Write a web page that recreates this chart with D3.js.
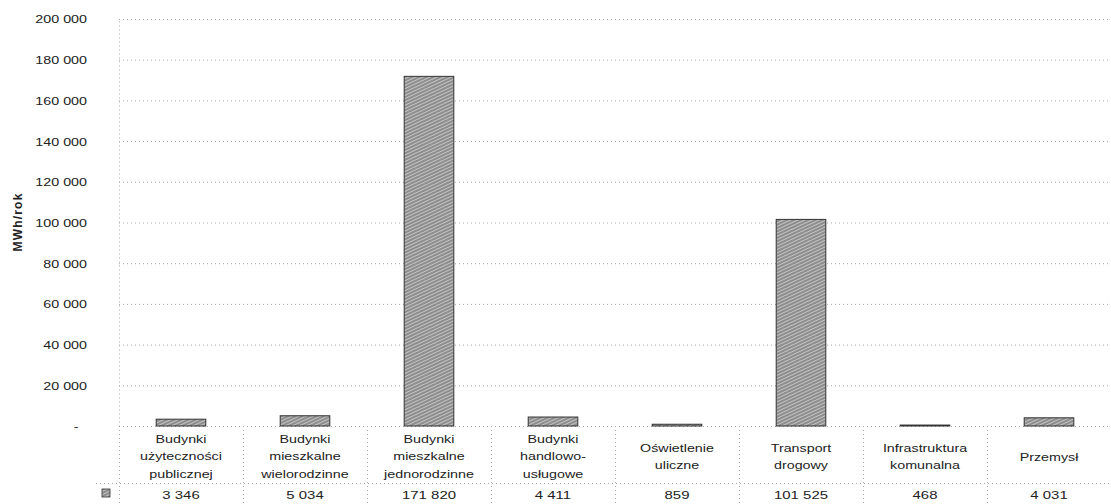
<!DOCTYPE html>
<html>
<head>
<meta charset="utf-8">
<script src="https://cdn.jsdelivr.net/npm/d3@7"></script>
<style>
body { margin: 0; background: #fff; }
svg { display: block; font-family: "Liberation Sans", Arial, sans-serif; }
.grid line { stroke: #a8a8a8; stroke-dasharray: 1,3; }
.cat { font-size: 11px; fill: #222; }
.val { font-size: 11.5px; fill: #222; }
</style>
</head>
<body>
<div id="graph"></div>
<script>
"use strict"
var categories = [
	["Budynki", "użyteczności", "publicznej"],
	["Budynki", "mieszkalne", "wielorodzinne"],
	["Budynki", "mieszkalne", "jednorodzinne"],
	["Budynki", "handlowo-", "usługowe"],
	["Oświetlenie", "uliczne"],
	["Transport", "drogowy"],
	["Infrastruktura", "komunalna"],
	["Przemysł"]
]
var values = [3346, 5034, 171820, 4411, 859, 101525, 468, 4031]
var yTicks = [0, 20000, 40000, 60000, 80000, 100000, 120000, 140000, 160000, 180000, 200000]
var yTitle = "MWh/rok"

var width = 1111, height = 504
var margin = {top: 19, left: 119, right: 0, bottom: 78}
var chartWidth = width - margin.left - margin.right
var chartHeight = height - margin.top - margin.bottom
var stretch = 1.3 // text in the original is drawn wide

var svg = d3.select("#graph").append("svg")
	.attr("width", width).attr("height", height)

// hatch fill for bars
var defs = svg.append("defs")
var pat = defs.append("pattern")
	.attr("id", "hatch")
	.attr("patternUnits", "userSpaceOnUse")
	.attr("width", 3).attr("height", 3)
	.attr("patternTransform", "rotate(-25)")
pat.append("rect").attr("width", 3).attr("height", 3).attr("fill", "#c4c4c4")
pat.append("line").attr("x1", 0).attr("y1", 1).attr("x2", 3).attr("y2", 1)
	.attr("stroke", "#555").attr("stroke-width", 1)

var fmt = function(v) {
	if (v === 0) return "-"
	return d3.format(",")(v).replace(/,/g, " ")
}

var x = d3.scaleBand()
	.domain(d3.range(categories.length))
	.range([margin.left, width - margin.right])
	.paddingInner(0).paddingOuter(0)

var y = d3.scaleLinear()
	.domain([0, 200000])
	.range([margin.top + chartHeight, margin.top])

// gridlines
svg.append("g").attr("class", "grid")
	.selectAll("line").data(yTicks).enter().append("line")
	.attr("x1", margin.left).attr("x2", width)
	.attr("y1", function(d){ return y(d) + 0.5 })
	.attr("y2", function(d){ return y(d) + 0.5 })

// y axis (dotted vertical line)
var yAxis = d3.axisLeft(y).tickValues(yTicks).tickFormat(fmt).tickSize(0)
var ga = svg.append("g").attr("transform", "translate(" + margin.left + ",0)").call(yAxis)
ga.select(".domain").attr("stroke", "#a8a8a8").attr("stroke-dasharray", "1,3")
ga.selectAll("text").attr("fill", "#222")
	.style("font-family", "Liberation Sans, Arial, sans-serif").style("font-size", "11px")
	.attr("x", function(d){ return (d === 0 ? -40.5 : -32) / stretch })
	.attr("dy", "0.36em")
	.attr("transform", "scale(" + stretch + ",1)")

svg.append("text")
	.attr("transform", "translate(22,222) rotate(-90)")
	.attr("text-anchor", "middle")
	.style("font-size", "12px").style("font-weight", "bold").style("letter-spacing", "1.2px")
	.attr("fill", "#222")
	.text(yTitle)

// bars
var barW = x.bandwidth() * 0.4
svg.append("g").selectAll("rect").data(values).enter().append("rect")
	.attr("x", function(d, i){ return x(i) + (x.bandwidth() - barW) / 2 })
	.attr("y", function(d){ return y(d) })
	.attr("width", barW)
	.attr("height", function(d){ return y(0) - y(d) })
	.attr("fill", "url(#hatch)")
	.attr("stroke", "#333").attr("stroke-width", 1)

// data table
var tableTop = y(0), rowSplit = 483
var tbl = svg.append("g").attr("class", "grid")
tbl.append("line").attr("x1", 96).attr("x2", width).attr("y1", rowSplit + 0.5).attr("y2", rowSplit + 0.5)
tbl.selectAll(".v").data(d3.range(categories.length + 1)).enter().append("line")
	.attr("x1", function(i){ return (i < categories.length ? x(i) : width) + 0.5 })
	.attr("x2", function(i){ return (i < categories.length ? x(i) : width) + 0.5 })
	.attr("y1", tableTop).attr("y2", height)

var lineH = 18
var cellMid = 460
svg.append("g").selectAll("text").data(categories).enter().append("text")
	.attr("class", "cat")
	.attr("text-anchor", "middle")
	.attr("transform", function(d, i){
		var ty = cellMid - (d.length - 1) * lineH / 2 + 0.5
		return "translate(" + (x(i) + x.bandwidth() / 2) + "," + ty + ") scale(" + stretch + ",1)"
	})
	.each(function(d) {
		var t = d3.select(this)
		d.forEach(function(s, k) {
			t.append("tspan")
				.attr("x", 0)
				.attr("dy", k === 0 ? 0 : lineH)
				.text(s)
		})
	})

svg.append("g").selectAll("text").data(values).enter().append("text")
	.attr("class", "val")
	.attr("text-anchor", "middle")
	.attr("transform", function(d, i){
		return "translate(" + (x(i) + x.bandwidth() / 2) + ",499) scale(" + stretch + ",1)"
	})
	.text(fmt)

// legend key
svg.append("rect").attr("x", 102).attr("y", 489).attr("width", 8).attr("height", 8)
	.attr("fill", "url(#hatch)").attr("stroke", "#333").attr("stroke-width", 0.8)
</script>
</body>
</html>
